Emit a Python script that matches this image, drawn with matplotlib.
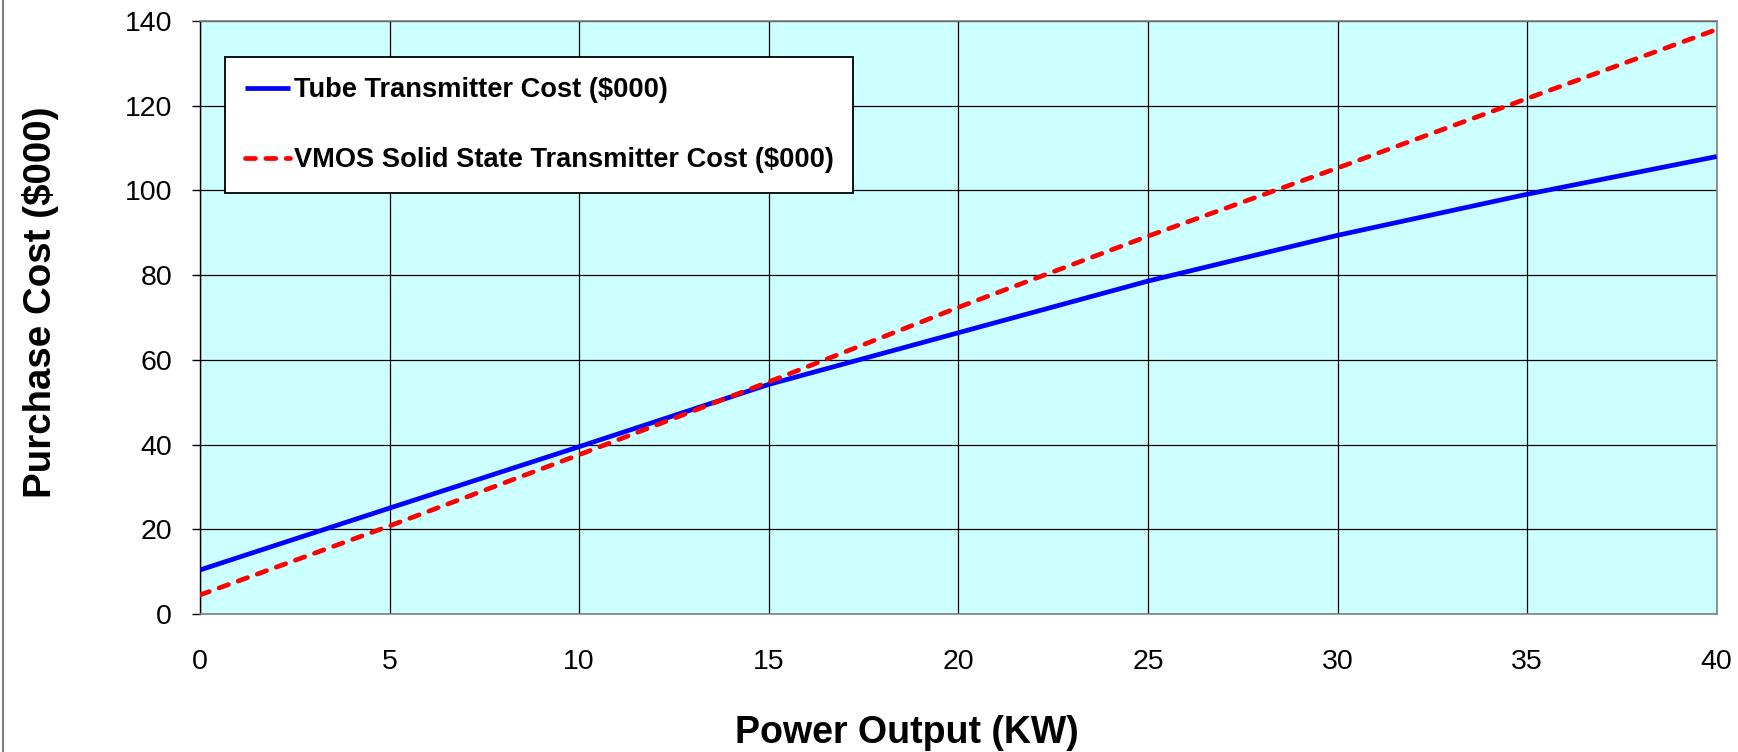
import matplotlib
matplotlib.use("Agg")
import matplotlib.pyplot as plt
from matplotlib.lines import Line2D

# ---- data ----
power_kw = [0, 5, 10, 15, 20, 25, 30, 35, 40]
tube_cost = [10.4, 25.0, 39.5, 54.2, 66.4, 78.6, 89.4, 99.1, 108.0]
vmos_cost = [4.5, 20.8, 37.6, 54.8, 72.4, 89.2, 105.3, 121.7, 138.0]
tube_label = "Tube Transmitter Cost ($000)"
vmos_label = "VMOS Solid State Transmitter Cost ($000)"
x_ticks = [0, 5, 10, 15, 20, 25, 30, 35, 40]
y_ticks = [0, 20, 40, 60, 80, 100, 120, 140]
x_title = "Power Output (KW)"
y_title = "Purchase Cost ($000)"

plt.rcParams['font.family'] = ['Liberation Sans', 'DejaVu Sans']

W, H = 1738, 752
fig = plt.figure(figsize=(W / 100, H / 100), dpi=100)
fig.patch.set_facecolor('white')

L, R, T, B = 200, 1716.7, 21, 614
ax = fig.add_axes([L / W, 1 - B / H, (R - L) / W, (B - T) / H])
ax.set_facecolor('#CCFFFF')

ax.plot(power_kw, tube_cost, color='#0000FF', lw=3.4, solid_capstyle='butt',
        solid_joinstyle='round', label=tube_label, zorder=3)
ax.plot(power_kw, vmos_cost, color='#FF0000', lw=3.4, dashes=(2.1, 2.2),
        dash_capstyle='round', label=vmos_label, zorder=3)

ax.set_xlim(0, 40)
ax.set_ylim(0, 140)
ax.set_xticks(x_ticks)
ax.set_yticks(y_ticks)
ax.grid(True, color='black', lw=0.9)
ax.set_axisbelow(True)

ax.tick_params(axis='x', length=0, pad=25, labelsize=20.5)
ax.tick_params(axis='y', length=6, width=1, direction='out', pad=14,
               labelsize=20.5, color='black')

for s in ['top', 'right', 'bottom']:
    ax.spines[s].set_color('#808080')
    ax.spines[s].set_linewidth(1.2)
ax.spines['left'].set_color('black')
ax.spines['left'].set_linewidth(1.0)

fig.text(907 / W, 1 - 733 / H, x_title, fontsize=27, fontweight='bold',
         ha='center', va='center')
fig.text(41 / W, 1 - 302 / H, y_title, fontsize=27.7, fontweight='bold',
         ha='center', va='center', rotation=90)

leg = ax.legend(loc='upper left', bbox_to_anchor=(225 / W, 1 - 57.5 / H),
                bbox_transform=fig.transFigure, borderaxespad=0,
                prop={'family': 'Liberation Sans', 'weight': 'bold', 'size': 19.6},
                handlelength=1.66, handletextpad=0.15, labelspacing=1.62,
                borderpad=0.72, fancybox=False, frameon=True)
leg.get_frame().set_edgecolor('black')
leg.get_frame().set_linewidth(1.3)
leg.get_frame().set_facecolor('white')
leg.get_frame().set_alpha(1)

fig.add_artist(Line2D([2.5 / W, 2.5 / W], [0, 1], transform=fig.transFigure,
                      color='#808080', lw=1.5))

fig.savefig('out.png', dpi=100, facecolor='white')
